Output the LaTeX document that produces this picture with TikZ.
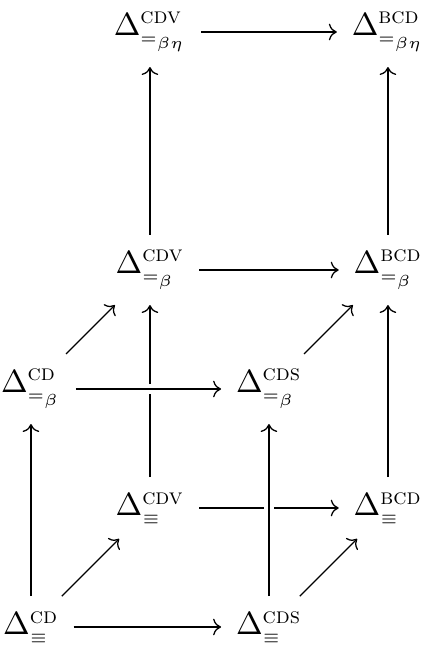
\documentclass[tikz,border=0pt]{standalone}
\usepackage{amsmath,amssymb}
\usepackage{tikz}
\usetikzlibrary{arrows.meta}
\newcommand{\lam}[2]{\Delta^{\textsc{#1}}_{\scriptscriptstyle #2}}

\begin{document}
\begin{tikzpicture}[
    x=37.2pt, y=37.2pt,
    obj/.style={inner sep=4.5pt},
    arrow/.style={-{Computer Modern Rightarrow}, line width=0.4pt},
    over/.style={arrow, preaction={draw=white, line width=3pt, -}}
]
    \useasboundingbox (-0.26,-0.252) rectangle (3.345,5.269);

    \node[obj] (cdE) at (0,0) {$\lam{cd}{\equiv}$};
    \node[obj] (cdsE) at (2,0) {$\lam{cds}{\equiv}$};
    \node[obj] (cdvE) at (1,1) {$\lam{cdv}{\equiv}$};
    \node[obj] (bcdE) at (3,1) {$\lam{bcd}{\equiv}$};
    \node[obj] (cdB) at (0,2) {$\lam{cd}{=_\beta}$};
    \node[obj] (cdsB) at (2,2) {$\lam{cds}{=_\beta}$};
    \node[obj] (cdvB) at (1,3) {$\lam{cdv}{=_\beta}$};
    \node[obj] (bcdB) at (3,3) {$\lam{bcd}{=_\beta}$};
    \node[obj] (cdvBE) at (1,5) {$\lam{cdv}{=_{\beta\eta}}$};
    \node[obj] (bcdBE) at (3,5) {$\lam{bcd}{=_{\beta\eta}}$};

    \draw[arrow] (cdE) -- (cdsE);
    \draw[arrow] (cdE) -- (cdB);
    \draw[arrow] (cdE) -- (cdvE);
    \draw[arrow] (cdsE) -- (bcdE);
    \draw[arrow] (cdvE) -- (bcdE);
    \draw[arrow] (cdvE) -- (cdvB);
    \draw[over] (cdsE) -- (cdsB);
    \draw[arrow] (bcdE) -- (bcdB);
    \draw[over] (cdB) -- (cdsB);
    \draw[arrow] (cdB) -- (cdvB);
    \draw[arrow] (cdsB) -- (bcdB);
    \draw[arrow] (cdvB) -- (bcdB);
    \draw[arrow] (cdvB) -- (cdvBE);
    \draw[arrow] (bcdB) -- (bcdBE);
    \draw[arrow] (cdvBE) -- (bcdBE);
\end{tikzpicture}
\end{document}
